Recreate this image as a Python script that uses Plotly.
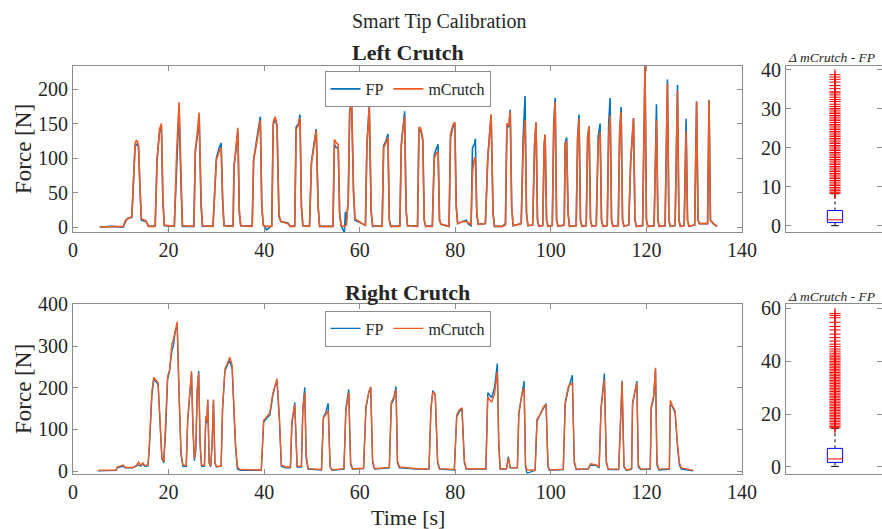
import plotly.graph_objects as go

# ---------------- Left crutch: force-plate vs. instrumented crutch ----------------
t_left = [
    5.6, 8.0, 10.5, 11.0, 11.5, 12.3,
    12.6, 13.0, 13.3, 13.7, 14.0, 14.3, 15.3, 15.8,
    17.2, 17.6, 18.1, 18.5, 18.8, 19.1,
    21.2, 21.7, 22.2, 22.6, 22.9,
    25.3, 25.6, 26.0, 26.4, 26.8, 27.1,
    29.3, 29.6, 30.0, 30.6, 31.0, 31.3, 31.6,
    33.5, 33.7, 34.1, 34.5, 34.8, 35.1,
    37.5, 37.8, 38.4, 38.8, 39.2, 39.5, 39.8,
    40.5, 41.6, 41.9, 42.3, 42.7, 43.1, 43.5, 45.0, 45.5,
    46.4, 46.7, 47.2, 47.5, 47.8, 48.1,
    49.5, 49.9, 50.4, 50.9, 51.3, 51.6,
    54.4, 54.7, 55.1, 55.5, 55.8, 56.1, 56.8, 57.0, 57.2,
    57.6, 57.9, 58.3, 58.7, 59.0, 60.5, 61.2,
    61.5, 62.0, 62.4, 62.7,
    64.7, 65.0, 65.5, 65.9, 66.2, 66.5,
    68.4, 68.7, 69.0, 69.4, 69.7, 70.0,
    72.1, 72.4, 72.8, 73.2, 73.5, 73.8,
    75.2, 75.6, 76.1, 76.4, 76.7, 77.0,
    78.7, 79.0, 79.5, 79.9, 80.2, 80.5, 81.5, 82.3, 82.8,
    83.3, 83.6, 84.0, 84.2, 84.5, 84.8,
    86.3, 86.8, 87.2, 87.5, 87.9, 88.2,
    89.8, 90.5, 90.8, 91.2, 91.5, 91.8, 92.1,
    93.8, 94.2, 94.6, 94.9, 95.2,
    96.2, 96.6, 96.9, 97.2, 97.5,
    98.3, 98.6, 98.8, 99.1, 99.4,
    100.3, 100.6, 100.9, 101.2, 101.5,
    102.8, 103.0, 103.3, 103.6, 103.9,
    105.3, 105.6, 105.9, 106.2, 106.5,
    107.4, 107.7, 108.0, 108.3, 108.6,
    109.5, 109.9, 110.3, 110.6, 110.9,
    111.8, 112.1, 112.4, 112.7, 113.0,
    114.1, 114.4, 114.7, 115.0, 115.3,
    116.3, 116.7, 117.3, 117.6, 117.9,
    119.2, 119.7, 120.0, 120.3,
    121.6, 121.9, 122.1, 122.4, 122.7,
    123.9, 124.4, 124.7, 125.0,
    126.0, 126.5, 126.8, 127.1,
    127.9, 128.1, 128.3, 128.6, 128.9,
    130.1, 130.5, 130.8, 131.1, 132.5,
    132.8, 133.1, 133.4, 134.0, 134.8,
]
fp_left = [
    0, 1, 0, 8, 13, 14,
    60, 118, 120, 117, 60, 10, 8, 1,
    2, 100, 138, 145, 40, 2,
    1, 100, 172, 60, 1,
    1, 110, 130, 160, 30, 1,
    2, 40, 100, 115, 122, 40, 2,
    2, 88, 112, 140, 20, 2,
    2, 98, 125, 140, 160, 30, 4,
    -4, 2, 148, 158, 145, 15, 8, 6, 1,
    2, 145, 150, 163, 30, 2,
    2, 95, 120, 142, 30, 1,
    1, 120, 115, 115, 20, 2, -8, 22, 3,
    40, 168, 182, 50, 10, 5, 2,
    120, 175, 20, 1,
    2, 118, 125, 135, 10, 1,
    2, 118, 140, 168, 25, 2,
    2, 142, 140, 125, 10, 1,
    2, 105, 115, 120, 10, 4,
    1, 130, 145, 150, 30, 5, 8, 10, 4,
    2, 115, 120, 128, 20, 4,
    5, 100, 145, 163, 20, 1,
    1, 5, 148, 145, 170, 30, 2,
    5, 130, 190, 20, 2,
    3, 120, 152, 10, 1,
    2, 120, 134, 10, 1,
    2, 150, 187, 10, 1,
    3, 122, 130, 20, 1,
    2, 130, 163, 10, 1,
    2, 130, 146, 10, 1,
    2, 130, 150, 10, 1,
    2, 150, 187, 10, 1,
    2, 140, 174, 10, 1,
    3, 95, 158, 10, 1,
    2, 234, 10, 1,
    2, 140, 178, 10, 1,
    2, 214, 10, 1,
    2, 206, 10, 1,
    2, 120, 157, 10, 1,
    3, 182, 10, 5, 5,
    5, 184, 10, 5, 1,
]
mc_left = [
    0, 0, 1, 10, 12, 15,
    55, 122, 126, 120, 62, 12, 9, 1,
    1, 95, 142, 150, 45, 3,
    1, 110, 181, 70, 2,
    1, 112, 135, 166, 40, 2,
    1, 40, 97, 110, 115, 45, 2,
    1, 88, 114, 144, 25, 2,
    1, 97, 121, 138, 155, 35, 2,
    1, 1, 152, 160, 148, 18, 8, 5, 1,
    1, 142, 148, 158, 30, 2,
    1, 92, 118, 140, 30, 1,
    1, 127, 122, 120, 20, 2, 1, 2, 3,
    40, 165, 189, 55, 12, 5, 2,
    115, 176, 25, 2,
    1, 115, 122, 130, 10, 1,
    1, 120, 140, 160, 25, 2,
    1, 145, 143, 128, 10, 1,
    1, 100, 108, 108, 10, 4,
    1, 135, 148, 152, 30, 5, 8, 8, 6,
    3, 80, 100, 100, 20, 4,
    5, 100, 145, 163, 20, 1,
    1, 3, 150, 148, 168, 30, 2,
    5, 115, 155, 20, 2,
    3, 120, 152, 10, 1,
    2, 120, 134, 10, 1,
    2, 140, 181, 10, 1,
    3, 120, 125, 20, 1,
    2, 128, 157, 10, 1,
    2, 130, 146, 10, 1,
    2, 120, 138, 10, 1,
    2, 130, 162, 10, 1,
    2, 135, 167, 10, 1,
    3, 95, 158, 10, 1,
    2, 234, 10, 1,
    2, 120, 155, 10, 1,
    2, 208, 10, 1,
    2, 198, 10, 1,
    2, 110, 139, 10, 1,
    3, 182, 10, 5, 5,
    5, 184, 10, 5, 1,
]

# ---------------- Right crutch ----------------
t_right = [
    5.2, 7.0, 9.0, 9.3, 10.0, 10.5, 11.0, 12.5, 13.2, 13.7, 14.2, 14.6, 15.0, 15.7,
    16.0, 16.5, 16.9, 17.4, 17.8, 18.2, 18.6, 19.0,
    19.4, 19.8, 20.2, 20.7, 21.0, 21.4, 21.8, 22.2, 22.6, 23.0, 23.7,
    24.0, 24.4, 24.8, 25.1, 25.4,
    25.7, 26.0, 26.3, 26.6, 26.9, 27.5,
    27.8, 28.0, 28.2, 28.5, 28.8,
    29.1, 29.4, 29.7, 30.0, 31.0,
    31.3, 31.8, 32.3, 32.8, 33.3, 34.0, 34.4, 35.0, 39.4,
    39.9, 40.4, 41.2, 41.8, 42.3, 42.7, 43.2, 43.6, 44.5, 45.5,
    45.8, 46.4, 46.7, 46.9, 47.8,
    48.1, 48.5, 48.8, 49.2, 52.0,
    52.4, 52.9, 53.4, 53.8, 54.2, 56.7,
    57.1, 57.7, 58.1, 58.5, 60.8,
    61.3, 61.9, 62.3, 62.7, 63.1, 66.2,
    66.6, 67.1, 67.6, 67.9, 68.3, 72.0, 74.5,
    74.9, 75.3, 75.8, 76.3, 76.7, 79.8,
    80.3, 80.8, 81.4, 81.9, 82.3, 86.4,
    86.8, 87.6, 88.2, 88.8, 89.1, 89.4, 90.7, 91.1, 91.5, 93.0,
    93.3, 93.9, 94.4, 94.7, 95.0, 96.7,
    97.1, 97.7, 98.5, 99.0, 99.4, 99.7, 102.6,
    103.0, 103.7, 104.5, 104.9, 105.3, 107.8, 108.3, 109.5, 110.1,
    110.5, 111.2, 111.6, 112.0, 114.2,
    114.5, 114.9, 115.3, 115.8, 116.9,
    117.1, 117.6, 118.0, 118.3, 118.8, 120.8,
    121.0, 121.5, 121.9, 122.2, 122.6, 124.8,
    125.0, 125.4, 126.0, 126.5, 126.9, 127.3, 129.8,
]
fp_right = [
    1, 1, 2, 9, 10, 12, 8, 8, 12, 15, 12, 18, 12, 13,
    60, 180, 220, 212, 208, 120, 30, 20,
    100, 220, 240, 290, 300, 335, 350, 180, 40, 12, 12,
    120, 190, 235, 100, 25,
    50, 190, 240, 60, 12, 12,
    128, 115, 170, 20, 10,
    60, 170, 20, 10, 12,
    150, 240, 255, 265, 245, 60, 5, 2, 2,
    118, 125, 135, 180, 205, 212, 120, 12, 8, 8,
    110, 165, 60, 10, 10,
    150, 201, 30, 5, 3,
    130, 140, 163, 10, 2, 5,
    150, 196, 15, 5, 6,
    150, 190, 202, 20, 5, 8,
    160, 172, 203, 20, 8, 5, 5,
    150, 193, 183, 20, 5, 3,
    130, 142, 150, 20, 5, 5,
    188, 176, 200, 258, 60, 5, 5, 35, 8, 8,
    138, 180, 216, 10, -5, 2,
    120, 135, 150, 162, 10, 2, 4,
    160, 200, 230, 20, 4, 5, 15, 14, 8,
    150, 234, 20, 4, 4,
    120, 217, 10, 2, 5,
    160, 190, 216, 10, 4, 5,
    150, 175, 245, 15, 3, 5,
    160, 155, 140, 60, 15, 5, 1,
]
mc_right = [
    2, 2, 3, 10, 12, 15, 9, 9, 13, 22, 14, 20, 14, 15,
    70, 190, 225, 218, 212, 125, 35, 22,
    110, 228, 242, 305, 315, 340, 358, 190, 45, 15, 14,
    125, 195, 240, 110, 30,
    60, 198, 235, 70, 15, 14,
    132, 120, 172, 20, 12,
    60, 172, 20, 12, 12,
    152, 246, 258, 273, 255, 70, 10, 4, 3,
    122, 128, 140, 186, 210, 222, 130, 15, 10, 10,
    120, 160, 70, 12, 12,
    150, 188, 40, 6, 4,
    128, 135, 145, 12, 3, 6,
    145, 188, 20, 6, 7,
    155, 188, 202, 25, 6, 9,
    165, 177, 195, 25, 10, 6, 6,
    148, 190, 185, 25, 6, 4,
    135, 146, 152, 25, 6, 6,
    178, 165, 185, 238, 70, 6, 6, 32, 8, 8,
    140, 182, 200, 15, 3, 3,
    125, 135, 155, 160, 15, 3, 5,
    165, 205, 212, 25, 5, 6, 18, 15, 10,
    150, 220, 25, 5, 5,
    118, 215, 12, 3, 6,
    165, 192, 212, 15, 5, 6,
    155, 180, 248, 20, 5, 6,
    170, 158, 145, 65, 20, 8, 2,
]

# ---------------- |mCrutch - FP| box-plot summaries ----------------
# order: lower whisker, Q1, median, Q3, upper whisker
box_left = [0.0, 0.8, 1.5, 3.9, 8.2]
out_left = [
    8.3, 8.6, 9.0, 9.4, 9.8, 10.3, 10.7, 11.2, 11.6, 12.1, 12.5, 13.0, 13.4,
    13.9, 14.3, 14.8, 15.2, 15.7, 16.1, 16.6, 17.0, 17.5, 17.9, 18.4, 18.8,
    19.3, 19.7, 20.2, 20.6, 21.1, 21.5, 22.0, 22.4, 22.9, 23.3, 23.8, 24.2,
    24.7, 25.1, 25.6, 26.0, 26.5, 27.0, 27.4, 27.9, 28.3, 28.8, 29.2, 29.7,
    30.1, 30.6, 31.2, 31.9, 32.4, 33.0, 33.6, 34.1, 34.4, 35.2, 36.0, 36.9,
    37.6, 38.2, 38.8,
]
box_right = [0.2, 1.7, 3.0, 7.0, 14.6]
out_right = [
    14.8, 15.3, 15.9, 16.5, 17.1, 17.7, 18.3, 18.9, 19.5, 20.1, 20.7, 21.3,
    21.9, 22.5, 23.1, 23.7, 24.3, 24.9, 25.5, 26.1, 26.7, 27.3, 27.9, 28.5,
    29.1, 29.7, 30.3, 30.9, 31.5, 32.1, 32.7, 33.3, 33.9, 34.5, 35.1, 35.7,
    36.3, 36.9, 37.5, 38.1, 38.7, 39.3, 39.9, 40.5, 41.1, 41.7, 42.3, 43.0,
    43.8, 44.6, 45.5, 46.4, 47.6, 48.9, 50.2, 51.8, 53.1, 54.7, 56.4, 57.3,
    58.0,
]

x_ticks = [0, 20, 40, 60, 80, 100, 120, 140]

FONT = "Liberation Serif, Times New Roman, serif"
AX = "#8c8c8c"
TXT = "#262626"
BLUE = "#0072BD"
ORANGE = "#F05A23"

fig = go.Figure()


def add_lines(t, fp, mc, xa, ya, leg, lw):
    assert len(t) == len(fp) == len(mc)
    fig.add_trace(go.Scatter(x=t, y=fp, mode="lines", name="FP",
                             line=dict(color=BLUE, width=lw),
                             xaxis=xa, yaxis=ya, legend=leg))
    fig.add_trace(go.Scatter(x=t, y=mc, mode="lines", name="mCrutch",
                             line=dict(color=ORANGE, width=lw),
                             xaxis=xa, yaxis=ya, legend=leg))


def add_box(stats, outliers, xa, ya):
    lo, q1, med, q3, hi = stats
    c, w, cap = 1.0, 0.078, 0.04
    common = dict(xaxis=xa, yaxis=ya, showlegend=False, hoverinfo="skip")
    fig.add_trace(go.Scatter(x=[c, c, None, c, c], y=[q3, hi, None, q1, lo],
                             mode="lines", line=dict(color="black", width=1, dash="dot"), **common))
    fig.add_trace(go.Scatter(x=[c - cap, c + cap, None, c - cap, c + cap], y=[hi, hi, None, lo, lo],
                             mode="lines", line=dict(color="black", width=1), **common))
    fig.add_trace(go.Scatter(x=[c - w, c + w, c + w, c - w, c - w], y=[q1, q1, q3, q3, q1],
                             mode="lines", line=dict(color="#0000FF", width=1), **common))
    fig.add_trace(go.Scatter(x=[c - w, c + w], y=[med, med],
                             mode="lines", line=dict(color="#FF0000", width=1), **common))
    fig.add_trace(go.Scatter(x=[c] * len(outliers), y=outliers, mode="markers",
                             marker=dict(symbol="cross-thin", size=8,
                                         line=dict(color="#FF0000", width=1)), **common))


add_lines(t_left, fp_left, mc_left, "x", "y", "legend", 1.6)
add_lines(t_right, fp_right, mc_right, "x2", "y2", "legend2", 1.4)
add_box(box_left, out_left, "x3", "y3")
add_box(box_right, out_right, "x4", "y4")

tick_font = dict(family=FONT, size=20, color=TXT)
base_ax = dict(showline=True, linecolor=AX, linewidth=1, mirror="ticks",
               ticks="inside", ticklen=5, tickcolor=AX, showgrid=False,
               zeroline=False, tickfont=tick_font)

line_dom_x = [73 / 882, 742 / 882]
box_dom_x = [786 / 882, 1.0]
top_dom_y = [1 - 232.3 / 529, 1 - 65.7 / 529]
bot_dom_y = [1 - 473.5 / 529, 1 - 304.3 / 529]

legend_style = dict(xanchor="center", yanchor="top", orientation="h",
                    bgcolor="white", bordercolor=AX, borderwidth=1,
                    font=dict(family=FONT, size=16, color=TXT), itemwidth=30,
                    tracegroupgap=0)

fig.update_layout(
    width=882, height=529,
    margin=dict(l=0, r=0, t=0, b=0, autoexpand=False),
    paper_bgcolor="white", plot_bgcolor="white",
    font=dict(family=FONT, color=TXT),
    xaxis=dict(domain=line_dom_x, anchor="y", range=[0, 140], tickvals=x_ticks, **base_ax),
    yaxis=dict(domain=top_dom_y, anchor="x", range=[-7.6, 234], tickvals=[0, 50, 100, 150, 200], **base_ax),
    xaxis2=dict(domain=line_dom_x, anchor="y2", range=[0, 140], tickvals=x_ticks, **base_ax),
    yaxis2=dict(domain=bot_dom_y, anchor="x2", range=[-5.5, 400], tickvals=[0, 100, 200, 300, 400], **base_ax),
    xaxis3=dict(domain=box_dom_x, anchor="y3", range=[0.5, 1.48], showline=True, linecolor=AX,
                mirror=True, showticklabels=False, ticks="", showgrid=False, zeroline=False),
    yaxis3=dict(domain=top_dom_y, anchor="x3", range=[-1.7, 41.1], tickvals=[0, 10, 20, 30, 40], **base_ax),
    xaxis4=dict(domain=box_dom_x, anchor="y4", range=[0.5, 1.48], showline=True, linecolor=AX,
                mirror=True, showticklabels=False, ticks="", showgrid=False, zeroline=False),
    yaxis4=dict(domain=bot_dom_y, anchor="x4", range=[-2.5, 61.5], tickvals=[0, 20, 40, 60], **base_ax),
    legend=dict(x=407.5 / 882, y=1 - 71 / 529, **legend_style),
    legend2=dict(x=407.5 / 882, y=1 - 310.5 / 529, **legend_style),
)

ann = [
    dict(text="Smart Tip Calibration", x=439 / 882, y=1 - 22 / 529, size=20),
    dict(text="<b>Left Crutch</b>", x=407.5 / 882, y=1 - 52 / 529, size=22),
    dict(text="<b>Right Crutch</b>", x=407.5 / 882, y=1 - 292.5 / 529, size=22),
    dict(text="<i>Δ mCrutch - FP</i>", x=831 / 882, y=1 - 57 / 529, size=13.5),
    dict(text="<i>Δ mCrutch - FP</i>", x=831 / 882, y=1 - 296.5 / 529, size=13.5),
    dict(text="Time [s]", x=407.5 / 882, y=1 - 517 / 529, size=22),
    dict(text="Force [N]", x=23 / 882, y=1 - 149 / 529, size=23, angle=-90),
    dict(text="Force [N]", x=23 / 882, y=1 - 389 / 529, size=23, angle=-90),
]
for a in ann:
    fig.add_annotation(text=a["text"], x=a["x"], y=a["y"], xref="paper", yref="paper",
                       xanchor="center", yanchor="middle", showarrow=False,
                       textangle=a.get("angle", 0),
                       font=dict(family=FONT, size=a["size"], color=TXT))

fig.write_html("out.html")
